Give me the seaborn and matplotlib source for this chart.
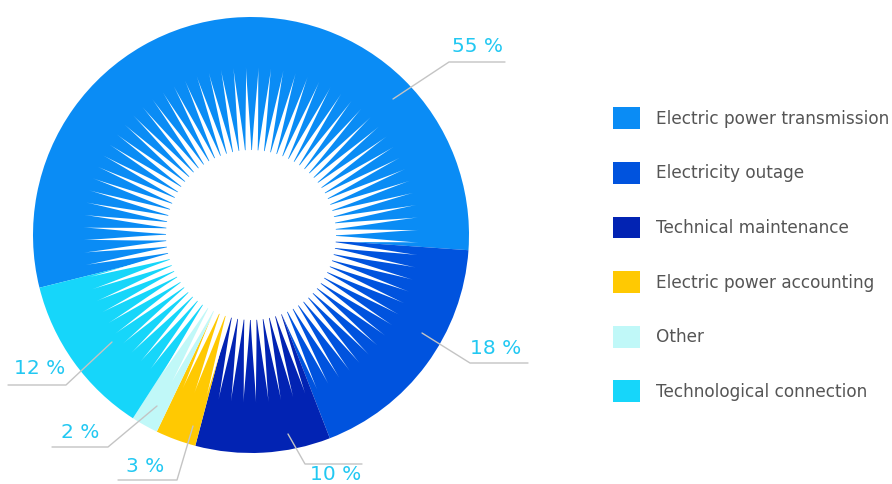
import numpy as np
import matplotlib
matplotlib.use("Agg")
import matplotlib.pyplot as plt
import seaborn as sns
from matplotlib.patches import Polygon, Circle

# data
categories = ["Electric power transmission", "Electricity outage", "Technical maintenance",
              "Electric power accounting", "Other", "Technological connection"]
shares = [55, 18, 10, 3, 2, 12]
labels = ["55 %", "18 %", "10 %", "3 %", "2 %", "12 %"]
colors = ["#0a8cf5", "#0053de", "#0223b3", "#ffc902", "#c0f8f8", "#16d6fa"]

sns.set_theme(style="white")
plt.rcParams['font.family'] = ['DejaVu Sans']

fig = plt.figure(figsize=(8.92, 4.84), dpi=100)
ax = fig.add_axes([0, 0, 1, 1])

cx, cy, R = 251, 249, 218
wedges, _ = ax.pie(shares, colors=colors, startangle=194, counterclock=False,
                   center=(cx, cy), radius=R, frame=True,
                   wedgeprops=dict(linewidth=0))
ax.set_xlim(0, 892)
ax.set_ylim(0, 484)
ax.set_aspect("equal")
ax.axis("off")

# starburst in the middle: needle-like white spikes with curved sides
n_spikes = 84
r_in, r_out = 82, 168
half = np.pi / n_spikes * 0.95
t = np.linspace(0, 1, 25)
rr = r_in + (r_out - r_in) * t
w = half * (1 - t) ** 1.5
for k in range(n_spikes):
    a = 2 * np.pi * k / n_spikes + 0.03
    left = np.column_stack([cx + rr * np.cos(a - w), cy + rr * np.sin(a - w)])
    right = np.column_stack([cx + rr * np.cos(a + w), cy + rr * np.sin(a + w)])[::-1]
    ax.add_patch(Polygon(np.vstack([left, right]), closed=True,
                         facecolor="white", edgecolor="none", zorder=3))
ax.add_patch(Circle((cx, cy), 85, facecolor="white", edgecolor="none", zorder=4))

# label layout: anchor on pie, elbow, end of underline, text position
layout = [
    ((393, 385), (449, 422), (505, 422), (478, 437)),
    ((422, 151), (470, 121), (528, 121), (496, 136)),
    ((288, 50), (305, 20), (362, 20), (336, 10)),
    ((193, 58), (177, 4), (118, 4), (145, 18)),
    ((157, 78), (108, 37), (52, 37), (80, 52)),
    ((112, 142), (66, 99), (8, 99), (40, 115)),
]
for lab, (p0, p1, p2, pt) in zip(labels, layout):
    ax.plot([p0[0], p1[0], p2[0]], [p0[1], p1[1], p2[1]], color="#c4c4c4", lw=1, zorder=5)
    ax.text(pt[0], pt[1], lab, color="#22c8f2", fontsize=14.5, ha="center", va="center", zorder=6)

leg = ax.legend(wedges, categories, loc="upper left", bbox_to_anchor=(598 / 892, 1 - 92 / 484),
                frameon=False, fontsize=12.2, handlelength=1.6, handleheight=1.6,
                labelspacing=1.94, handletextpad=0.95, labelcolor="#555555")

fig.savefig("out.png", dpi=100)
